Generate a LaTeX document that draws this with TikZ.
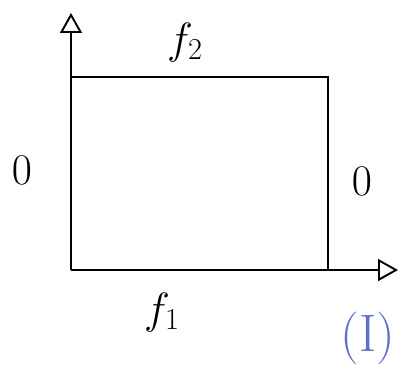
\documentclass[tikz,border=0pt]{standalone}
\usepackage{xcolor}
\usepackage{tikz}
\usetikzlibrary{arrows.meta, positioning}

\definecolor{penblue}{RGB}{95,110,200}

\begin{document}
\begin{tikzpicture}[
        axis/.style={-{Triangle[open, length=4mm, width=4.4mm]}, line width=1.1pt},
        edge/.style={line width=1.1pt},
        label/.style={font=\fontsize{23}{28}\selectfont},
        tag/.style={font=\fontsize{30}{36}\selectfont, text=penblue}
    ]
        \useasboundingbox (0,0) rectangle (8.32,7.3);

        \coordinate (origin) at (1.42,1.90);
        \coordinate (xend) at (7.96,1.90);
        \coordinate (yend) at (1.42,7.04);
        \coordinate (topleft) at (1.42,5.76);
        \coordinate (topright) at (6.56,5.76);
        \coordinate (botright) at (6.56,1.90);

        \node[label] (ftop) at (3.70,6.45) {$f_2$};
        \node[label] (fbot) at (3.24,1.05) {$f_1$};
        \node[label] (zleft) at (0.44,3.90) {$0$};
        \node[label] (zright) at (7.24,3.68) {$0$};
        \node[tag] (case) at (7.36,0.54) {(I)};

        \draw[axis] (origin) -- (xend);
        \draw[axis] (origin) -- (yend);
        \draw[edge] (topleft) -- (topright) -- (botright);
    \end{tikzpicture}
\end{document}
